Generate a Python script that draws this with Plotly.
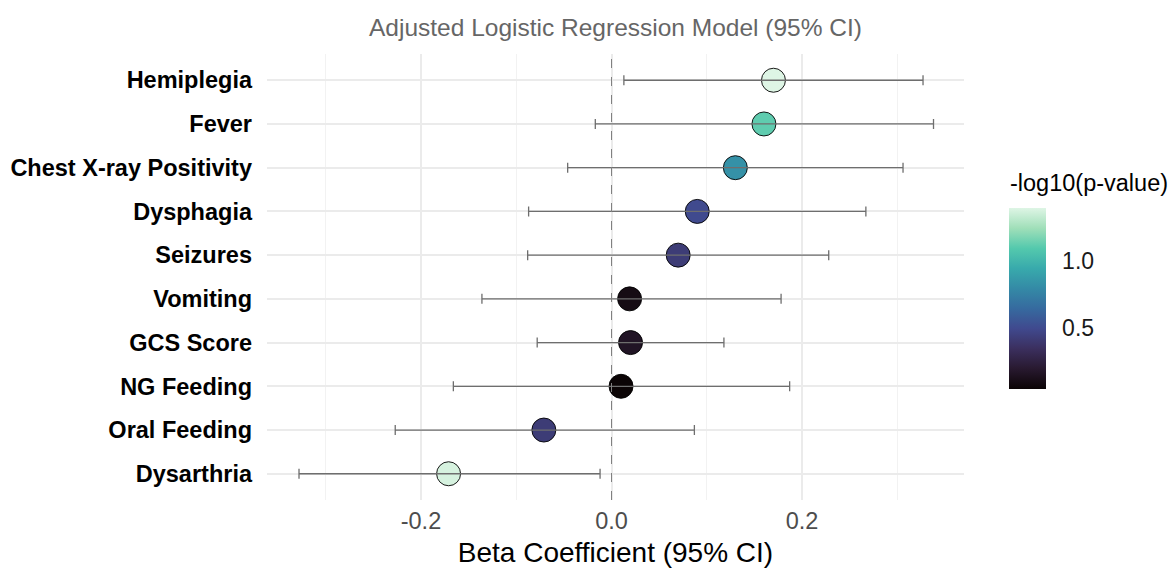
import plotly.graph_objects as go

variables = ["Hemiplegia", "Fever", "Chest X-ray Positivity", "Dysphagia", "Seizures",
             "Vomiting", "GCS Score", "NG Feeding", "Oral Feeding", "Dysarthria"]
beta = [0.170, 0.160, 0.130, 0.090, 0.070, 0.019, 0.020, 0.010, -0.071, -0.171]
ci_low = [0.013, -0.017, -0.046, -0.087, -0.088, -0.136, -0.078, -0.166, -0.227, -0.328]
ci_high = [0.327, 0.338, 0.306, 0.267, 0.228, 0.178, 0.118, 0.187, 0.087, -0.012]
neglog_p = [1.40, 1.12, 0.83, 0.50, 0.42, 0.10, 0.16, 0.045, 0.42, 1.38]

x_ticks = [-0.2, 0.0, 0.2]
x_tick_labels = ["-0.2", "0.0", "0.2"]
cbar_ticks = [0.5, 1.0]
cbar_tick_labels = ["0.5", "1.0"]

mako = [
    [0.0, "#0B0405"], [1/9, "#28192F"], [2/9, "#3B2F5E"], [3/9, "#40498E"],
    [4/9, "#366A9F"], [5/9, "#348AA6"], [6/9, "#38AAAC"], [7/9, "#54C9AD"],
    [8/9, "#A0DFB9"], [1.0, "#DEF5E5"],
]

FONT = "Liberation Sans, Arial, sans-serif"

err_plus = [h - b for h, b in zip(ci_high, beta)]
err_minus = [b - l for b, l in zip(beta, ci_low)]

fig = go.Figure()
fig.add_trace(go.Scatter(
    x=beta, y=variables, mode="markers",
    marker=dict(size=24, color=neglog_p, colorscale=mako,
                line=dict(color="black", width=0.9),
                colorbar=dict(
                    thickness=37, thicknessmode="pixels",
                    len=181, lenmode="pixels",
                    x=1.0646, xanchor="left", xref="paper",
                    y=0.452, yanchor="middle",
                    xpad=0, ypad=0, outlinewidth=0,
                    tickvals=cbar_ticks, ticktext=cbar_tick_labels,
                    ticks="outside", ticklen=12, tickcolor="rgba(0,0,0,0)",
                    tickfont=dict(size=23, color="#1a1a1a", family=FONT),
                )),
    hoverinfo="x+y", showlegend=False,
))
fig.add_trace(go.Scatter(
    x=beta, y=variables, mode="markers",
    marker=dict(size=1, color="rgba(0,0,0,0)"),
    error_x=dict(type="data", symmetric=False, array=err_plus, arrayminus=err_minus,
                 color="#6e6e6e", thickness=1.3, width=5),
    hoverinfo="skip", showlegend=False,
))

fig.add_shape(type="line", xref="x", yref="paper", x0=0, x1=0, y0=0, y1=1,
              line=dict(color="#808080", width=1, dash="dash"), layer="above")

fig.add_annotation(text="Adjusted Logistic Regression Model (95% CI)",
                   xref="paper", yref="paper", x=0.5, y=1, yshift=27,
                   xanchor="center", yanchor="middle", showarrow=False,
                   font=dict(size=24.5, color="#666666", family=FONT))

fig.add_annotation(text="-log10(p-value)",
                   xref="paper", yref="paper", x=1.0632, y=0.711,
                   xanchor="left", yanchor="middle", showarrow=False,
                   font=dict(size=23.5, color="black", family=FONT))

fig.update_layout(
    width=1176, height=572,
    margin=dict(l=259, r=220, t=46, b=80, autoexpand=False),
    paper_bgcolor="white", plot_bgcolor="white",
    font=dict(family=FONT),
    xaxis=dict(
        range=[-0.3616, 0.370], tickvals=x_ticks, ticktext=x_tick_labels,
        showgrid=True, gridcolor="#ebebeb", gridwidth=1.6, zeroline=False,
        minor=dict(tickvals=[-0.3, -0.1, 0.1, 0.3], showgrid=True,
                   gridcolor="#f2f2f2", gridwidth=0.9),
        tickfont=dict(size=23.5, color="#4d4d4d", family=FONT),
        ticklabelstandoff=4, automargin=False,
        title=dict(text="Beta Coefficient (95% CI)", standoff=9,
                   font=dict(size=28, color="black", family=FONT)),
        showline=False,
    ),
    yaxis=dict(
        categoryorder="array", categoryarray=variables[::-1],
        range=[-0.6, 9.6], automargin=False,
        showgrid=True, gridcolor="#ebebeb", gridwidth=1.6, zeroline=False,
        tickfont=dict(size=23.5, color="black", family=FONT, weight="bold"),
        ticklabelstandoff=14,
        showline=False,
    ),
)

fig.write_html("out.html")
